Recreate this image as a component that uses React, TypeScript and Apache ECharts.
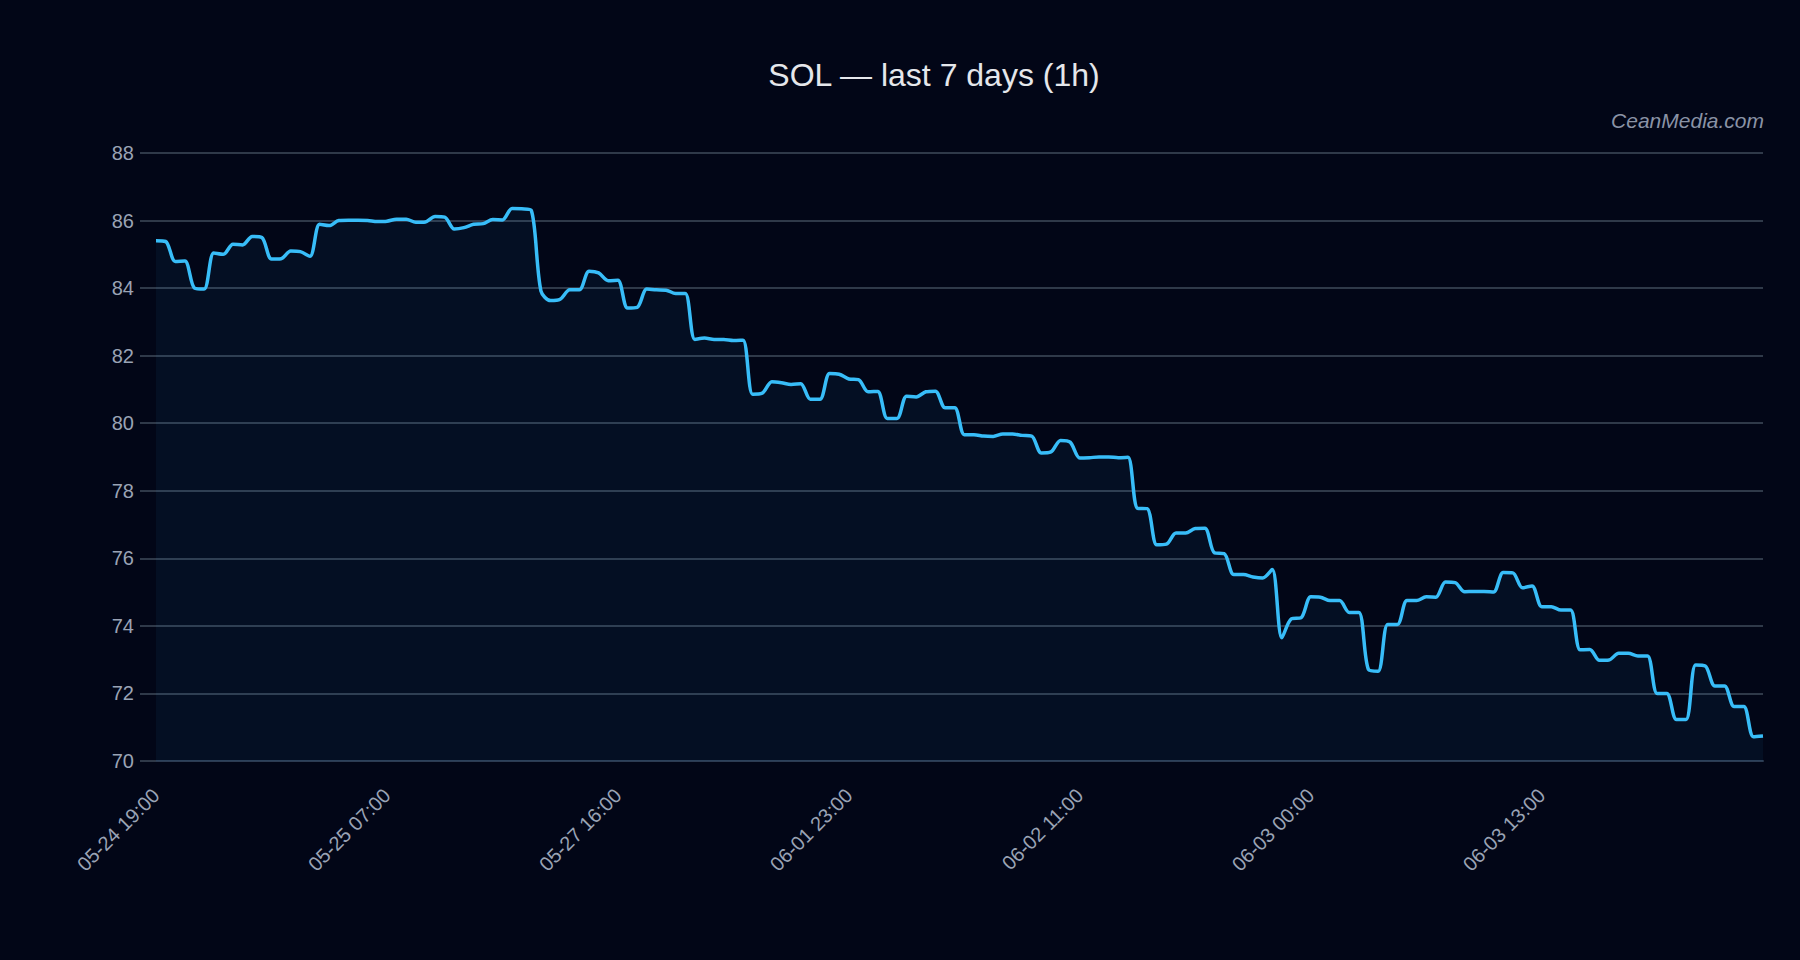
import React, { useEffect, useRef } from "react";
import * as echarts from "echarts";

const TITLE = "SOL — last 7 days (1h)";
const WATERMARK = "CeanMedia.com";

// visible tick labels (every 24th category)
const tickLabels = [
  "05-24 19:00",
  "05-25 07:00",
  "05-27 16:00",
  "06-01 23:00",
  "06-02 11:00",
  "06-03 00:00",
  "06-03 13:00",
];

const prices = [
  85.40, 85.38, 84.79, 84.80, 84.00, 83.97, 85.04, 85.00, 85.30, 85.28,
  85.53, 85.50, 84.86, 84.87, 85.10, 85.08, 84.94, 85.89, 85.85, 86.00,
  86.01, 86.01, 86.00, 85.97, 85.98, 86.04, 86.04, 85.95, 85.96, 86.12,
  86.10, 85.75, 85.79, 85.89, 85.91, 86.03, 86.02, 86.36, 86.35, 86.30,
  83.92, 83.63, 83.67, 83.95, 83.95, 84.50, 84.45, 84.22, 84.23, 83.41,
  83.43, 83.97, 83.95, 83.94, 83.84, 83.84, 82.48, 82.52, 82.48, 82.48,
  82.45, 82.46, 80.86, 80.89, 81.23, 81.20, 81.15, 81.17, 80.71, 80.71,
  81.47, 81.45, 81.31, 81.29, 80.93, 80.94, 80.14, 80.14, 80.80, 80.78,
  80.93, 80.95, 80.46, 80.46, 79.66, 79.66, 79.62, 79.61, 79.68, 79.68,
  79.64, 79.62, 79.12, 79.15, 79.49, 79.44, 78.97, 78.98, 79.00, 79.00,
  78.98, 78.99, 77.48, 77.47, 76.40, 76.42, 76.75, 76.75, 76.88, 76.89,
  76.16, 76.14, 75.52, 75.52, 75.45, 75.42, 75.67, 73.65, 74.21, 74.24,
  74.86, 74.85, 74.75, 74.75, 74.40, 74.40, 72.71, 72.66, 74.04, 74.04,
  74.75, 74.75, 74.86, 74.85, 75.30, 75.28, 75.01, 75.02, 75.02, 75.00,
  75.58, 75.57, 75.13, 75.18, 74.57, 74.57, 74.47, 74.47, 73.29, 73.30,
  72.98, 72.99, 73.19, 73.19, 73.11, 73.11, 72.00, 72.00, 71.23, 71.23,
  72.84, 72.81, 72.22, 72.22, 71.61, 71.61, 70.72, 70.74,
];

const Y_MIN = 70;
const Y_MAX = 88;
const Y_STEP = 2;
const LABEL_EVERY = 24;

function parseLabel(s: string): number {
  const [md, hm] = s.split(" ");
  const [mo, d] = md.split("-").map(Number);
  const [h] = hm.split(":").map(Number);
  return Date.UTC(2024, mo - 1, d, h);
}
function fmt(t: number): string {
  const dt = new Date(t);
  const p = (n: number) => String(n).padStart(2, "0");
  return `${p(dt.getUTCMonth() + 1)}-${p(dt.getUTCDate())} ${p(dt.getUTCHours())}:00`;
}

// hidden in-between categories, placed between the visible tick labels
function buildCategories(n: number): string[] {
  const anchors = tickLabels.map(parseLabel);
  const out: string[] = [];
  for (let i = 0; i < n; i++) {
    const k = Math.floor(i / LABEL_EVERY);
    const r = i % LABEL_EVERY;
    if (r === 0 && k < tickLabels.length) {
      out.push(tickLabels[k]);
      continue;
    }
    const a = anchors[Math.min(k, anchors.length - 1)];
    const b = k + 1 < anchors.length ? anchors[k + 1] : a + LABEL_EVERY * 3600000;
    const t = a + Math.round(((b - a) * r) / LABEL_EVERY / 3600000) * 3600000;
    out.push(fmt(t) + (out.includes(fmt(t)) ? ` #${i}` : ""));
  }
  return out;
}

const categories = buildCategories(prices.length);

export default function App() {
  const ref = useRef<HTMLDivElement>(null);
  useEffect(() => {
    if (!ref.current) return;
    const chart = echarts.init(ref.current, null, { renderer: "svg" });
    const font = "'Liberation Sans', Arial, sans-serif";
    chart.setOption({
      animation: false,
      backgroundColor: "#020617",
      textStyle: { fontFamily: font },
      grid: { left: 156, right: 37, top: 153, bottom: 199, containLabel: false },
      graphic: [
        {
          type: "text",
          x: 934,
          y: 75,
          style: {
            text: TITLE,
            fill: "#e5e7eb",
            font: `32px ${font}`,
            textAlign: "center",
            textVerticalAlign: "middle",
          },
        },
        {
          type: "text",
          x: 1764,
          y: 120,
          style: {
            text: WATERMARK,
            fill: "#8a93a6",
            font: `italic 21px ${font}`,
            textAlign: "right",
            textVerticalAlign: "middle",
          },
        },
      ],
      xAxis: {
        type: "category",
        data: categories,
        boundaryGap: false,
        axisLine: { show: true, lineStyle: { color: "#2c3b52", width: 2 } },
        axisTick: { show: false },
        axisLabel: {
          interval: LABEL_EVERY - 1,
          rotate: 45,
          color: "#9aa3b5",
          fontSize: 20,
          margin: 31,
          fontFamily: font,
        },
        splitLine: { show: false },
      },
      yAxis: {
        type: "value",
        min: Y_MIN,
        max: Y_MAX,
        interval: Y_STEP,
        axisLine: { show: false },
        axisTick: { show: true, length: 16, lineStyle: { color: "#2f3949", width: 2 } },
        axisLabel: { color: "#9aa3b5", fontSize: 20, margin: 22, fontFamily: font },
        splitLine: { show: true, lineStyle: { color: "#2f3949", width: 2 } },
      },
      series: [
        {
          type: "line",
          data: prices,
          smooth: 0.3,
          showSymbol: false,
          lineStyle: { color: "#38bdf8", width: 3.5 },
          itemStyle: { color: "#38bdf8" },
          areaStyle: { color: "rgba(56,189,248,0.08)", origin: "start" },
        },
      ],
    });
    return () => chart.dispose();
  }, []);
  return (
    <div
      ref={ref}
      style={{ position: "fixed", left: 0, top: 0, width: 1800, height: 960 }}
    />
  );
}
